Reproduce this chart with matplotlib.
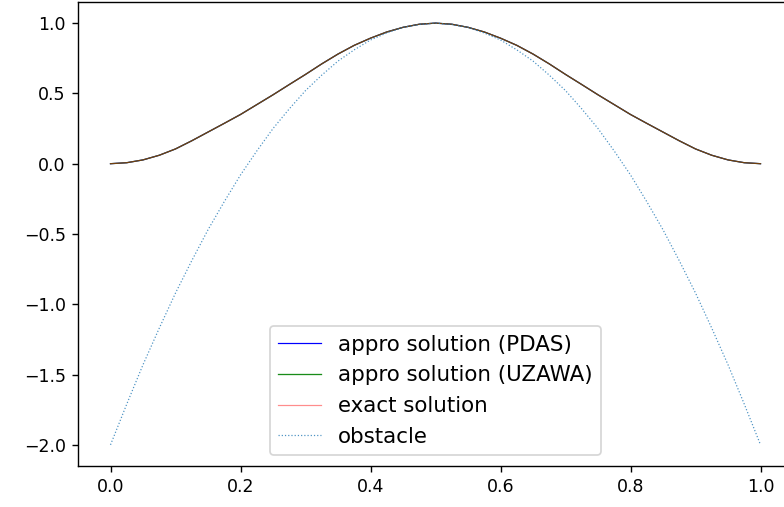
import matplotlib
matplotlib.use("Agg")
import matplotlib.pyplot as plt

# x grid of the discretisation
x = [0.0, 0.025, 0.05, 0.075, 0.1, 0.125, 0.15, 0.175, 0.2, 0.225, 0.25,
     0.275, 0.3, 0.325, 0.35, 0.375, 0.4, 0.425, 0.45, 0.475, 0.5,
     0.525, 0.55, 0.575, 0.6, 0.625, 0.65, 0.675, 0.7, 0.725, 0.75,
     0.775, 0.8, 0.825, 0.85, 0.875, 0.9, 0.925, 0.95, 0.975, 1.0]

# solution values (all three curves overlap)
u_exact = [0.0, 0.007, 0.027, 0.06, 0.105, 0.163, 0.225, 0.287, 0.35, 0.42, 0.49,
           0.563, 0.635, 0.71, 0.78, 0.842, 0.893, 0.937, 0.97, 0.992, 1.0,
           0.992, 0.97, 0.937, 0.893, 0.842, 0.78, 0.71, 0.635, 0.563, 0.49,
           0.42, 0.35, 0.287, 0.225, 0.163, 0.105, 0.06, 0.027, 0.007, 0.0]
u_pdas = list(u_exact)
u_uzawa = list(u_exact)

obstacle = [-2.0, -1.71, -1.43, -1.17, -0.92, -0.69, -0.47, -0.27, -0.08, 0.09, 0.25,
            0.39, 0.52, 0.63, 0.73, 0.81, 0.88, 0.93, 0.97, 0.99, 1.0,
            0.99, 0.97, 0.93, 0.88, 0.81, 0.73, 0.63, 0.52, 0.39, 0.25,
            0.09, -0.08, -0.27, -0.47, -0.69, -0.92, -1.17, -1.43, -1.71, -2.0]

fig = plt.figure(figsize=(6.272, 4.056), dpi=125)
ax = fig.add_axes([0.0995, 0.081, 0.912, 0.915])

ax.plot(x, u_pdas, color="b", lw=0.7, label="appro solution (PDAS)")
ax.plot(x, u_uzawa, color="green", alpha=0.9, lw=0.75, label="appro solution (UZAWA)")
ax.plot(x, u_exact, color="red", alpha=0.45, lw=0.7, label="exact solution")
ax.plot(x, obstacle, color="tab:blue", alpha=0.8, lw=0.7, ls=":", label="obstacle")

ax.set_xlim(-0.05, 1.05)
ax.set_ylim(-2.15, 1.15)
ax.set_xticks([0.0, 0.2, 0.4, 0.6, 0.8, 1.0])
ax.set_yticks([-2.0, -1.5, -1.0, -0.5, 0.0, 0.5, 1.0])
ax.tick_params(labelsize=10)

ax.legend(loc="lower center", prop={'size': 12.3})

fig.savefig("out.png", dpi=125)
